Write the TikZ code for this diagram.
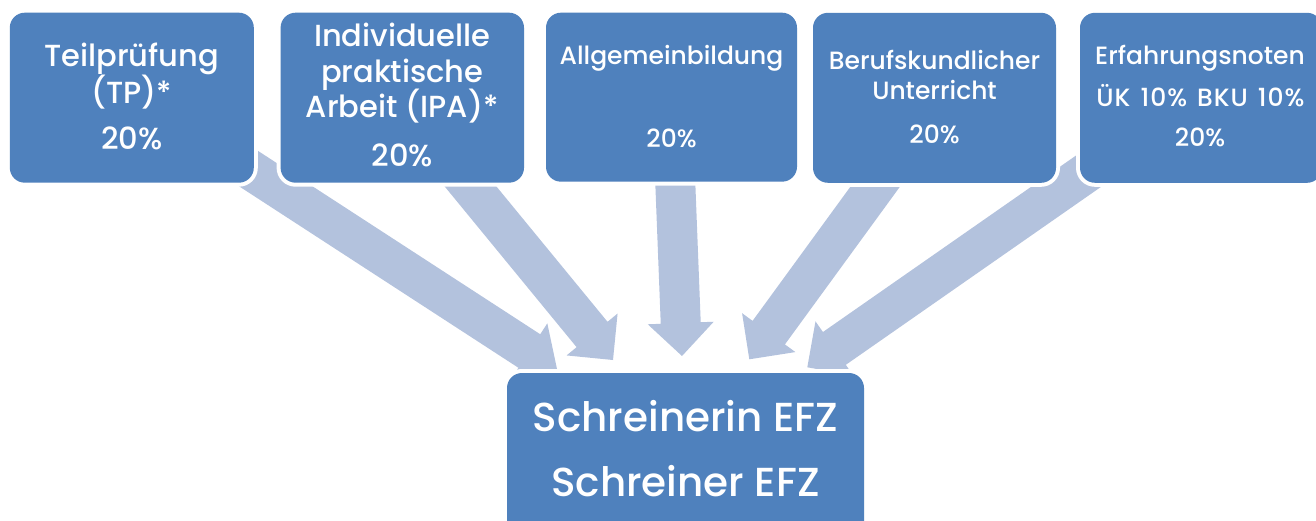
\documentclass[tikz,border=0pt]{standalone}
\usepackage{fontspec}
\setmainfont{Poppins Medium}
\usetikzlibrary{calc}
\definecolor{boxblue}{HTML}{4F81BD}
\definecolor{arrowfill}{HTML}{B3C2DD}
\newcommand{\myblockarrow}[3]{%
  \coordinate (#3) at ($(#2)!33pt!(#1)$);
  \fill[arrowfill] ($(#1)!20pt!90:(#2)$) -- ($(#3)!20pt!90:(#2)$) -- ($(#3)!33pt!90:(#2)$) -- (#2)
    -- ($(#3)!33pt!-90:(#2)$) -- ($(#3)!20pt!-90:(#2)$) -- ($(#1)!20pt!-90:(#2)$) -- cycle;}
\begin{document}
\begin{tikzpicture}[x=1pt,y=-1pt,
  box/.style={rounded corners=15pt, fill=boxblue, inner sep=0pt, outer sep=0pt,
    preaction={draw=white, line width=8pt}},
  big/.style={text=white, anchor=base, inner sep=0pt, font=\fontsize{30.5}{31}\selectfont},
  small/.style={text=white, anchor=base, inner sep=0pt, font=\fontsize{25}{25}\selectfont},
  huge/.style={text=white, anchor=base, inner sep=0pt, font=\fontsize{40.5}{41}\selectfont}]
\useasboundingbox (0,0) rectangle (1316,521);
\clip (0,0) rectangle (1316,521);
% arrow end points
\coordinate (s1) at (223,152);  \coordinate (e1) at (557,369);
\coordinate (s2) at (448,159);  \coordinate (e2) at (613,360);
\coordinate (s3) at (674,150);  \coordinate (e3) at (682,356);
\coordinate (s4) at (896.6,157.3); \coordinate (e4) at (749.3,359.3);
\coordinate (s5) at (1118.9,150); \coordinate (e5) at (807.3,367.3);
\myblockarrow{s1}{e1}{m1}
\myblockarrow{s2}{e2}{m2}
\myblockarrow{s3}{e3}{m3}
\myblockarrow{s4}{e4}{m4}
\myblockarrow{s5}{e5}{m5}
% boxes
\node[box, minimum width=244pt, minimum height=170pt] (b1) at (131.8,97.7) {};
\node[box, minimum width=243.4pt, minimum height=170pt] (b2) at (402.3,97.7) {};
\node[box, minimum width=251pt, minimum height=169pt] (b3) at (671.5,97.2) {};
\node[box, minimum width=243pt, minimum height=170pt] (b4) at (934.5,97.8) {};
\node[box, minimum width=242pt, minimum height=170pt] (b5) at (1201,97.8) {};
\node[box, minimum width=357pt, minimum height=180pt] (b6) at (685.5,463) {};
% texts
\node[big] (t1a) at (131.8,66.7) {Teilprüfung};
\node[big] (t1b) at (131.8,103.4) {(TP)*};
\node[big] (t1c) at (131.8,150) {20\%};
\node[big] (t2a) at (402.3,47) {Individuelle};
\node[big] (t2b) at (402.3,83) {praktische};
\node[big] (t2c) at (402.3,118) {Arbeit (IPA)*};
\node[big] (t2d) at (402.3,167) {20\%};
\node[small] (t3a) at (671.5,64.3) {Allgemeinbildung};
\node[small] (t3b) at (671.5,147.7) {20\%};
\node[small] (t4a) at (934.5,70) {Berufskundlicher};
\node[small] (t4b) at (934.5,100) {Unterricht};
\node[small] (t4c) at (934.5,143.3) {20\%};
\node[small] (t5a) at (1200,64.5) {Erfahrungsnoten};
\node[small] (t5b) at (1200.5,106.7) {\addfontfeature{LetterSpace=4}ÜK\hspace{10pt}10\%\hspace{10pt}BKU\hspace{10pt}10\%};
\node[small] (t5c) at (1200,146.7) {20\%};
\node[huge] (t6a) at (685.5,431.7) {Schreinerin EFZ};
\node[huge] (t6b) at (685.5,496.7) {Schreiner EFZ};
\end{tikzpicture}
\end{document}
